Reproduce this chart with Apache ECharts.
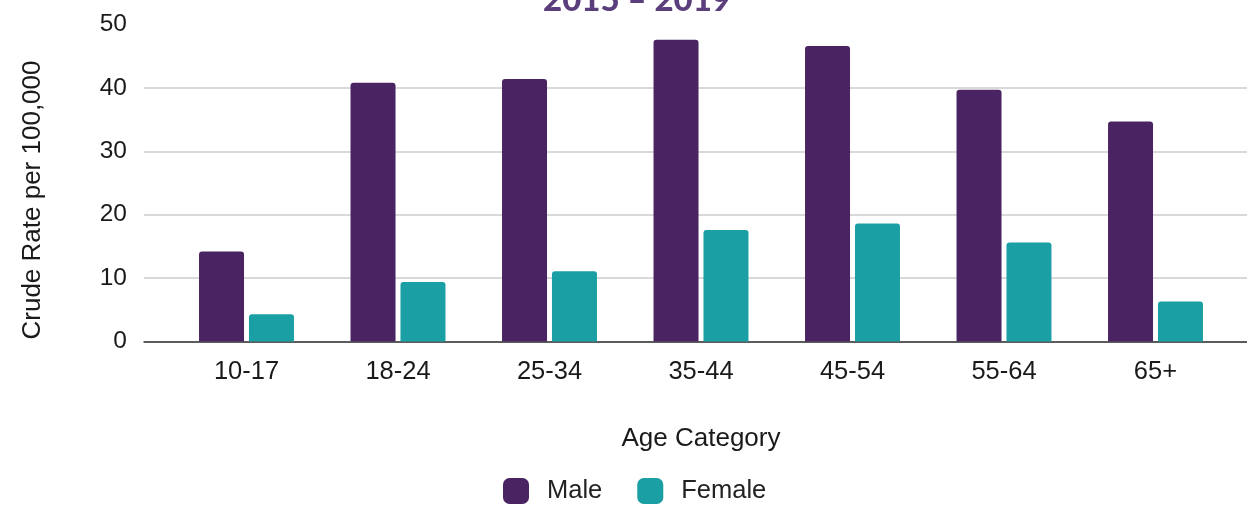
<!DOCTYPE html>
<html><head><meta charset="utf-8">
<script src="https://cdn.jsdelivr.net/npm/echarts@6/dist/echarts.min.js"></script>
<style>html,body{margin:0;padding:0;background:#fff}#c{width:1247px;height:505px}</style>
</head><body><div id="c"></div>
<script>
const categories = ['10-17','18-24','25-34','35-44','45-54','55-64','65+'];
const maleValues = [14.2, 40.8, 41.4, 47.6, 46.6, 39.7, 34.7];
const femaleValues = [4.3, 9.4, 11.1, 17.6, 18.6, 15.6, 6.3];
const seriesNames = ['Male', 'Female'];
const titleText = '2015 \u2013 2019';
const xAxisName = 'Age Category';
const yAxisName = 'Crude Rate per 100,000';

const FONT = 'Liberation Sans';
const chart = echarts.init(document.getElementById('c'));
const gTop = 24.5, gH = 317;
chart.setOption({
  animation: false,
  graphic: [
    {type:'text', x:637, y:17, style:{text:titleText, font:'900 33px Lato', fill:'#5b3e7c', align:'center', verticalAlign:'bottom'}},
    {type:'text', x:33, y:200, rotation:Math.PI/2, style:{text:yAxisName, font:'26px "Liberation Sans"', fill:'#1a1a1a', align:'center', verticalAlign:'middle'}}
  ],
  legend: {
    data: seriesNames, bottom: -4, left: 498, itemWidth: 26, itemHeight: 26, itemGap: 35,
    icon: 'roundRect',
    textStyle: {fontFamily: FONT, fontSize: 25.5, color: '#222', padding: [0,0,0,13]}
  },
  grid: [
    {left:144, right:0, top:gTop, height:gH},
    {left:170.75, width:1060.5, top:gTop, height:gH}
  ],
  xAxis: [
    {gridIndex:0, type:'category', data:categories, axisLabel:{show:false}, axisTick:{show:false},
     axisLine:{lineStyle:{color:'#333', width:1.5}}, splitLine:{show:false}},
    {gridIndex:1, type:'category', data:categories,
     axisLabel:{fontFamily:FONT, fontSize:25.5, color:'#1a1a1a', margin:17}, axisTick:{show:false}, axisLine:{show:false},
     name:xAxisName, nameLocation:'middle', nameGap:84, nameTextStyle:{fontFamily:FONT, fontSize:26, color:'#1a1a1a'}}
  ],
  yAxis: [
    {gridIndex:0, type:'value', min:0, max:50, interval:10,
     axisLabel:{fontFamily:FONT, fontSize:24.5, color:'#1a1a1a', margin:17},
     axisLine:{show:false}, axisTick:{show:false},
     splitLine:{lineStyle:{color:'#cccccc', width:1.5}, showMaxLine:false}},
    {gridIndex:1, type:'value', min:0, max:50, interval:10, axisLabel:{show:false},
     axisLine:{show:false}, axisTick:{show:false}, splitLine:{show:false}}
  ],
  series: [
    {name:seriesNames[0], type:'bar', xAxisIndex:1, yAxisIndex:1, data:maleValues, barWidth:45, barGap:'11%',
     itemStyle:{color:'#4a2462', borderRadius:[3,3,0,0]}},
    {name:seriesNames[1], type:'bar', xAxisIndex:1, yAxisIndex:1, data:femaleValues, barWidth:45, barGap:'11%',
     itemStyle:{color:'#1a9fa4', borderRadius:[3,3,0,0]}}
  ]
});
</script></body></html>
